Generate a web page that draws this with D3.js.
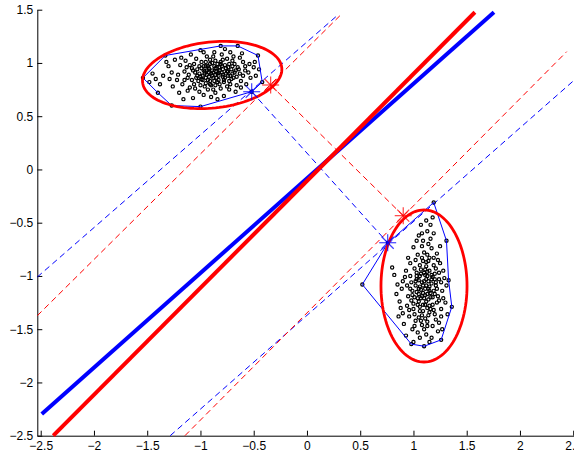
<!DOCTYPE html>
<html lang="en">
<head>
<meta charset="UTF-8">
<title>hull / ellipse separation</title>
<style>
  body { margin: 0; overflow: hidden; background: #fff; }
  svg { display: block; }
  .axis text { font-family: 'Liberation Sans', Arial, sans-serif; font-size: 12px; fill: #000; }
  .axis path, .axis line { stroke: #000; }
</style>
</head>
<body>
<div id="chart"></div>
<script src="https://cdn.jsdelivr.net/npm/d3@7"></script>
<script>
// tick labels
let xTicks = [-2.5, -2, -1.5, -1, -0.5, 0, 0.5, 1, 1.5, 2, 2.5]
let yTicks = [-2.5, -2, -1.5, -1, -0.5, 0, 0.5, 1, 1.5]

// upper cloud (class A)
let classA = [
  [-1.54,0.86],[-1.33,1.07],[-0.81,1.16],[-0.65,1.16],[-0.46,1.07],[-0.42,0.82],[-0.52,0.73],[-1.00,0.59],[-1.27,0.60],[-1.40,0.72],
  [-0.88,0.91],[-0.92,0.87],[-0.85,0.95],[-0.79,0.89],[-0.97,0.93],[-1.03,0.88],[-0.74,0.92],[-0.83,0.84],[-0.91,0.99],[-0.69,0.86],
  [-1.08,0.95],[-0.95,0.81],[-0.77,0.98],[-0.86,1.02],[-1.12,0.86],[-0.64,0.94],[-0.99,1.01],[-0.72,0.80],[-0.81,0.76],[-1.15,0.92],
  [-0.93,0.75],[-0.60,0.88],[-1.06,0.80],[-0.87,0.83],[-0.75,1.04],[-1.01,0.97],[-0.68,0.99],[-0.89,0.88],[-0.96,0.90],[-0.82,0.93],
  [-1.19,0.98],[-0.58,0.97],[-1.22,0.84],[-0.71,0.85],[-0.94,1.06],[-1.04,1.04],[-0.78,0.82],[-0.84,0.99],[-0.66,0.79],[-1.10,0.77],
  [-0.90,0.79],[-0.98,0.84],[-0.76,0.95],[-0.62,0.83],[-1.27,0.91],[-0.55,0.91],[-1.14,1.02],[-0.80,1.08],[-0.70,1.02],[-0.92,0.95],
  [-1.30,0.97],[-0.53,0.86],[-1.01,0.73],[-0.86,0.72],[-0.73,0.75],[-1.17,0.80],[-0.63,1.05],[-0.97,1.10],[-0.88,1.06],[-1.09,1.08],
  [-0.57,0.80],[-1.24,1.03],[-0.83,0.88],[-0.95,0.97],[-0.74,0.88],[-0.87,0.97],[-1.05,0.91],[-0.79,0.94],[-0.91,0.83],[-0.68,0.91],
  [-1.35,0.88],[-1.38,0.80],[-0.50,0.96],[-0.48,0.88],[-1.20,0.72],[-0.67,0.73],[-0.90,0.68],[-1.07,0.67],[-0.78,0.69],[-1.16,0.66],
  [-1.32,1.01],[-0.61,1.09],[-0.72,1.10],[-1.00,1.12],[-1.42,0.85],[-0.49,1.01],[-0.81,1.01],[-1.02,0.83],[-0.85,0.86],[-0.94,0.89],
  [-0.76,0.90],[-0.99,0.95],[-0.89,0.93],[-0.82,0.80],[-0.65,0.96],[-1.13,0.96],[-0.71,0.94],[-0.96,0.78],[-1.11,0.89],[-0.58,0.93],
  [-0.84,0.90],[-0.92,0.91],[-0.77,0.86],[-1.06,0.99],[-0.69,1.06],[-0.87,1.10],[-1.21,0.89],[-0.62,0.77],[-0.75,0.78],[-1.03,0.94],
  [-0.95,0.86],[-0.80,0.97],[-0.73,0.99],[-1.18,1.05],[-1.26,0.78],[-0.54,0.99],[-0.97,0.70],[-0.84,0.66],[-1.45,0.90],[-1.48,0.82],
  [-0.91,1.03],[-0.66,0.87],[-1.08,0.84],[-0.79,1.03],[-0.86,0.79],[-1.00,0.87],[-0.93,0.97],[-0.70,0.90],[-0.82,0.96],[-1.15,0.84],
  [-0.60,1.01],[-0.77,1.13],[-1.12,0.74],[-0.88,0.75],[-1.29,0.85],[-0.45,0.94],[-0.94,0.93],[-0.85,0.92],[-0.98,0.88],[-0.74,0.96],
  [-0.90,0.90],[-0.83,0.91],[-0.96,0.92],[-0.88,0.86],[-0.79,0.87],[-1.01,0.90],[-0.86,0.95],[-0.93,0.84],[-0.75,0.92],[-1.04,0.86],
  [-0.81,0.99],[-0.97,0.97],[-0.72,0.88],[-0.91,0.80],[-1.07,0.93],[-0.67,0.93],[-0.89,1.00],[-0.78,0.84],[-1.00,0.79],[-0.84,0.82],
  [-0.95,1.01],[-0.73,0.83],[-1.10,0.98],[-0.63,0.90],[-0.86,0.89],[-0.99,0.85],[-0.80,0.91],[-0.92,0.94],[-1.05,0.76],[-0.70,0.97]
]

// lower cloud (class B)
let classB = [
  [0.52,-1.08],[0.76,-0.69],[1.19,-0.31],[1.31,-0.67],[1.33,-1.04],[1.36,-1.29],[1.26,-1.60],[1.10,-1.66],[0.98,-1.64],
  [1.10,-1.05],[1.14,-1.12],[1.07,-0.98],[1.18,-1.01],[1.03,-1.15],[1.12,-0.91],[1.21,-1.09],[1.05,-1.24],[1.16,-1.20],[1.09,-0.86],
  [0.98,-1.06],[1.24,-0.97],[1.01,-0.93],[1.13,-1.30],[1.19,-0.83],[0.95,-1.19],[1.08,-1.37],[1.22,-1.25],[1.04,-0.80],[1.15,-0.95],
  [0.92,-1.01],[1.27,-1.14],[1.11,-1.18],[1.00,-1.31],[1.17,-0.74],[1.06,-1.10],[1.20,-1.36],[0.97,-0.88],[1.13,-1.43],[1.25,-0.88],
  [1.02,-1.42],[1.08,-0.72],[0.89,-1.12],[1.23,-1.19],[1.14,-1.05],[1.07,-1.21],[0.94,-1.28],[1.18,-1.47],[1.11,-0.99],[1.03,-1.03],
  [1.29,-1.02],[0.99,-1.50],[1.16,-0.65],[1.12,-1.55],[1.26,-1.31],[0.87,-1.24],[1.05,-0.62],[1.21,-0.93],[0.93,-0.95],[1.09,-1.27],
  [1.15,-1.34],[1.01,-1.20],[1.19,-1.14],[1.06,-0.90],[0.96,-1.38],[1.24,-1.44],[1.10,-0.78],[1.13,-0.58],[0.90,-1.35],[1.28,-1.21],
  [1.04,-1.53],[1.17,-1.58],[1.08,-1.46],[0.85,-1.08],[1.22,-0.79],[1.00,-0.73],[1.14,-0.86],[1.11,-1.40],[0.91,-1.45],[1.26,-1.06],
  [1.07,-1.13],[1.12,-1.24],[1.02,-1.09],[1.18,-1.27],[0.98,-1.23],[1.20,-1.03],[1.09,-1.16],[1.15,-1.10],[1.05,-1.04],[1.13,-1.00],
  [0.95,-0.83],[1.23,-1.52],[1.06,-1.58],[0.88,-1.30],[1.30,-1.25],[1.03,-0.67],[1.19,-0.60],[1.12,-0.48],[1.07,-0.52],[1.25,-0.72],
  [0.84,-1.17],[0.82,-0.99],[0.80,-0.92],[1.31,-1.09],[1.32,-1.36],[1.15,-1.62],[0.93,-1.56],[1.27,-1.50],[1.00,-1.62],[1.18,-0.45],
  [1.08,-1.06],[1.16,-1.16],[1.04,-1.27],[1.22,-1.12],[0.99,-1.14],[1.11,-0.94],[1.14,-1.37],[1.06,-1.33],[1.20,-0.98],[0.97,-1.00],
  [1.10,-1.21],[1.17,-1.07],[1.03,-0.97],[1.13,-0.80],[1.01,-1.47],[1.24,-1.03],[0.94,-1.09],[1.09,-0.67],[1.21,-1.41],[1.07,-1.42],
  [1.12,-1.09],[1.15,-1.28],[1.05,-1.17],[1.19,-0.90],[0.96,-1.32],[1.10,-1.50],[1.23,-0.85],[1.02,-0.85],[1.28,-0.95],[0.90,-1.05],
  [1.14,-0.70],[1.08,-0.60],[1.16,-0.52],[1.26,-1.38],[0.86,-1.38],[1.11,-1.12],[1.06,-1.00],[1.18,-1.20],[1.00,-1.26],[1.13,-1.17],
  [1.09,-1.09],[1.12,-1.03],[1.05,-1.12],[1.15,-1.14],[1.08,-1.19],[1.17,-1.03],[1.02,-1.05],[1.11,-1.27],[1.13,-0.96],[1.07,-0.94],
  [1.20,-1.17],[1.04,-1.21],[1.14,-1.22],[1.10,-0.97],[0.99,-1.18],[1.16,-1.31],[1.06,-1.29],[1.21,-1.06],[1.01,-1.36],[1.12,-0.87],
  [1.09,-1.33],[1.17,-0.99],[1.03,-1.00],[1.15,-0.83],[1.24,-1.23],[0.97,-1.12],[1.08,-0.83],[1.19,-1.32],[1.05,-1.39],[1.13,-1.47]
]

// convex hulls (vertex order)
let hullA = [[-1.54,0.86],[-1.33,1.07],[-0.81,1.16],[-0.65,1.16],[-0.46,1.07],[-0.42,0.82],[-0.52,0.73],[-1.00,0.59],[-1.27,0.60],[-1.40,0.72]]
let hullB = [[0.52,-1.08],[0.76,-0.69],[1.19,-0.31],[1.31,-0.67],[1.33,-1.04],[1.36,-1.29],[1.26,-1.60],[1.10,-1.66],[0.98,-1.64]]

// ellipses: centre x, centre y, semi axis x, semi axis y, angle (deg)
let ellipseA = [-0.89, 0.887, 0.657, 0.31, 6]
let ellipseB = [1.099, -1.094, 0.404, 0.714, 0]

// separating lines and margins (end points)
let hullLine = [[-2.49, -2.296], [1.756, 1.476]]
let ellLine = [[-2.382, -2.5], [1.577, 1.476]]
let hullMargins = [[[-2.532, -1.01], [0.29, 1.45]], [[-1.284, -2.5], [2.56, 0.883]]]
let ellMargins = [[[-2.532, -1.373], [0.326, 1.46]], [[-1.146, -2.5], [2.439, 1.106]]]

// closest points
let hullClosest = [[-0.519, 0.730], [0.758, -0.688]]
let ellClosest = [[-0.341, 0.793], [0.904, -0.434]]

let width = 574
let height = 458
let blue = '#0000ff'
let red = '#ff0000'

let svg = d3.select('#chart').append('svg').attr('width', width).attr('height', height)

// axis equal: 106.5 px per unit both ways
let x = d3.scaleLinear().domain([-2.532, 2.56]).range([37.3, 37.3 + 5.092 * 106.5])
let y = d3.scaleLinear().domain([-2.5, 1.5]).range([435.7, 9.7])

let fmt = d => (d < 0 ? '\u2212' : '') + Math.abs(d)

svg.append('g').attr('class', 'axis')
  .attr('transform', 'translate(0,' + y(-2.5) + ')')
  .call(d3.axisBottom(x).tickValues(xTicks).tickFormat(fmt).tickSizeInner(-5).tickSizeOuter(0).tickPadding(6))
svg.append('g').attr('class', 'axis')
  .attr('transform', 'translate(' + x(-2.532) + ',0)')
  .call(d3.axisLeft(y).tickValues(yTicks).tickFormat(fmt).tickSizeInner(-5).tickSizeOuter(0).tickPadding(4))

let line = d3.line().x(d => x(d[0])).y(d => y(d[1]))

// dashed margins
hullMargins.forEach(m => {
  svg.append('path').attr('d', line(m)).attr('stroke', blue).attr('stroke-width', 1).attr('stroke-dasharray', '6,4').attr('fill', 'none')
})
ellMargins.forEach(m => {
  svg.append('path').attr('d', line(m)).attr('stroke', red).attr('stroke-width', 1).attr('stroke-dasharray', '6,4').attr('fill', 'none')
})
// dashed links between closest points
svg.append('path').attr('d', line(hullClosest)).attr('stroke', blue).attr('stroke-width', 1).attr('stroke-dasharray', '6,4').attr('fill', 'none')
svg.append('path').attr('d', line(ellClosest)).attr('stroke', red).attr('stroke-width', 1).attr('stroke-dasharray', '6,4').attr('fill', 'none')

// points
svg.append('g').selectAll('circle').data(classA.concat(classB)).enter().append('circle')
  .attr('cx', d => x(d[0])).attr('cy', d => y(d[1])).attr('r', 1.6)
  .attr('fill', 'none').attr('stroke', '#000').attr('stroke-width', 1.2)

// hulls
;[hullA, hullB].forEach(h => {
  svg.append('path').attr('d', line(h.concat([h[0]]))).attr('stroke', blue).attr('stroke-width', 1).attr('fill', 'none')
})

// ellipses
function ellipsePts(e) {
  let a = e[4] * Math.PI / 180
  return d3.range(0, 361, 3).map(t => {
    let r = t * Math.PI / 180
    let u = e[2] * Math.cos(r), v = e[3] * Math.sin(r)
    return [e[0] + u * Math.cos(a) - v * Math.sin(a), e[1] + u * Math.sin(a) + v * Math.cos(a)]
  })
}
;[ellipseA, ellipseB].forEach(e => {
  svg.append('path').attr('d', line(ellipsePts(e))).attr('stroke', red).attr('stroke-width', 2.8).attr('fill', 'none')
})

// thick separators
svg.append('path').attr('d', line(hullLine)).attr('stroke', blue).attr('stroke-width', 4).attr('fill', 'none')
svg.append('path').attr('d', line(ellLine)).attr('stroke', red).attr('stroke-width', 4).attr('fill', 'none')

// star markers
function star(p, color) {
  let cx = x(p[0]), cy = y(p[1]), s = 8.5
  ;[0, 45, 90, 135].forEach(deg => {
    let r = deg * Math.PI / 180
    svg.append('line')
      .attr('x1', cx - s * Math.cos(r)).attr('y1', cy - s * Math.sin(r))
      .attr('x2', cx + s * Math.cos(r)).attr('y2', cy + s * Math.sin(r))
      .attr('stroke', color).attr('stroke-width', 1.2).attr('stroke-opacity', 0.75)
  })
}
hullClosest.forEach(p => star(p, blue))
ellClosest.forEach(p => star(p, red))
</script>
</body>
</html>
